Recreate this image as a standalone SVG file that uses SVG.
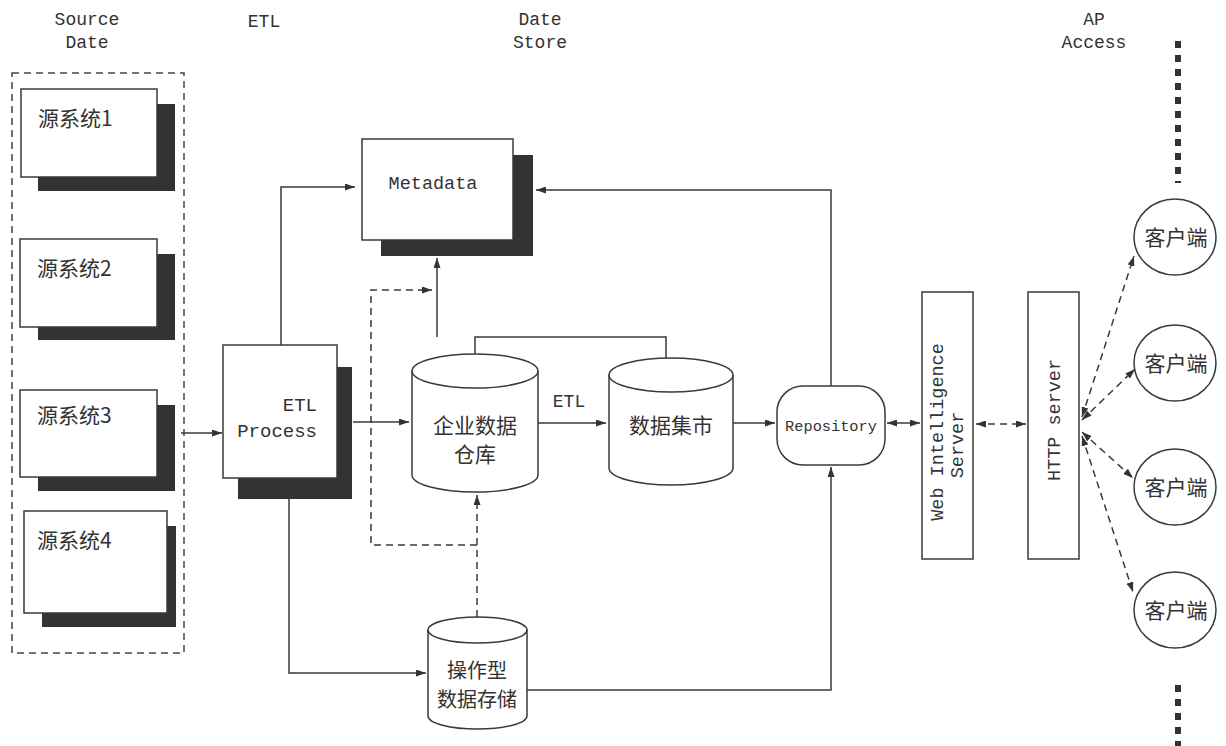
<svg xmlns="http://www.w3.org/2000/svg" width="1226" height="746" viewBox="0 0 1226 746">
<style>
.bg{fill:#fff}
.box{fill:#fff;stroke:#3a3a3a;stroke-width:1.5}
.sh{fill:#333}
.ln{fill:none;stroke:#3a3a3a;stroke-width:1.5}
.dl{fill:none;stroke:#3a3a3a;stroke-width:1.5;stroke-dasharray:7 5}
.mono{font-family:"Liberation Mono","DejaVu Sans Mono",monospace;fill:#333}
.cjk{font-family:"Noto Sans CJK SC","Noto Sans CJK JP",sans-serif;fill:#333}
</style>
<defs>
<marker id="ah" viewBox="0 0 10 7" refX="10" refY="3.5" markerWidth="10" markerHeight="7" markerUnits="userSpaceOnUse" orient="auto-start-reverse">
<path d="M0,0 L10,3.5 L0,7 Z" fill="#333"/>
</marker>
</defs>
<rect class="bg" x="0" y="0" width="1226" height="746"/>

<g id="headers">
<text class="mono" font-size="18" x="87" y="25" text-anchor="middle">Source</text>
<text class="mono" font-size="18" x="87" y="48" text-anchor="middle">Date</text>
<text class="mono" font-size="18" x="264" y="27" text-anchor="middle">ETL</text>
<text class="mono" font-size="18" x="540" y="25" text-anchor="middle">Date</text>
<text class="mono" font-size="18" x="540" y="48" text-anchor="middle">Store</text>
<text class="mono" font-size="18" x="1094" y="25" text-anchor="middle">AP</text>
<text class="mono" font-size="18" x="1094" y="48" text-anchor="middle">Access</text>
</g>

<g id="dots">
<line x1="1178" y1="41" x2="1178" y2="183" stroke="#333" stroke-width="6" stroke-dasharray="7 7"/>
<line x1="1178" y1="685" x2="1178" y2="746" stroke="#333" stroke-width="6" stroke-dasharray="7 7"/>
</g>

<g id="source-group">
<rect x="12" y="73" width="172" height="580" fill="none" stroke="#444" stroke-width="1.5" stroke-dasharray="7 5"/>
</g>
<g id="src1">
<rect class="sh" x="38" y="104" width="137" height="87"/>
<rect class="box" x="21" y="89" width="136" height="88"/>
<text class="cjk" font-size="21" x="38" y="126">源系统1</text>
</g>
<g id="src2">
<rect class="sh" x="38" y="254" width="137" height="86"/>
<rect class="box" x="20" y="239" width="137" height="88"/>
<text class="cjk" font-size="21" x="37" y="276">源系统2</text>
</g>
<g id="src3">
<rect class="sh" x="38" y="405" width="137" height="86"/>
<rect class="box" x="20" y="390" width="137" height="87"/>
<text class="cjk" font-size="21" x="37" y="423">源系统3</text>
</g>
<g id="src4">
<rect class="sh" x="42" y="526" width="134" height="101"/>
<rect class="box" x="24" y="511" width="143" height="102"/>
<text class="cjk" font-size="21" x="37" y="548">源系统4</text>
</g>

<g id="etl">
<rect class="sh" x="238" y="367" width="114" height="132"/>
<rect class="box" x="223" y="345" width="114" height="133"/>
<text class="mono" font-size="19" x="317" y="411" text-anchor="end">ETL</text>
<text class="mono" font-size="19" x="317" y="437" text-anchor="end">Process</text>
</g>

<g id="metadata">
<rect class="sh" x="381" y="155" width="152" height="101"/>
<rect class="box" x="362" y="139" width="151" height="101"/>
<text class="mono" font-size="18.5" x="433" y="189" text-anchor="middle">Metadata</text>
</g>

<g id="edw">
<path class="box" d="M412,371 A63,17 0 0,1 538,371 L538,475 A63,17 0 0,1 412,475 Z"/>
<path class="ln" d="M412,371 A63,17 0 0,0 538,371"/>
<text class="cjk" font-size="21" x="475" y="433" text-anchor="middle">企业数据</text>
<text class="cjk" font-size="21" x="475" y="462" text-anchor="middle">仓库</text>
</g>

<g id="datamart">
<path class="box" d="M609,375 A62,17 0 0,1 733,375 L733,468 A62,17 0 0,1 609,468 Z"/>
<path class="ln" d="M609,375 A62,17 0 0,0 733,375"/>
<text class="cjk" font-size="21" x="671" y="433" text-anchor="middle">数据集市</text>
</g>

<g id="ods">
<path class="box" d="M428,630 A49.5,13 0 0,1 527,630 L527,716 A49.5,13 0 0,1 428,716 Z"/>
<path class="ln" d="M428,630 A49.5,13 0 0,0 527,630"/>
<text class="cjk" font-size="20" x="477" y="678" text-anchor="middle">操作型</text>
<text class="cjk" font-size="20" x="477" y="707" text-anchor="middle">数据存储</text>
</g>

<g id="repository">
<rect class="box" x="777" y="386" width="108" height="79" rx="26" ry="26"/>
<text class="mono" font-size="15.3" x="831" y="431" text-anchor="middle">Repository</text>
</g>

<g id="wis">
<rect class="box" x="922" y="292" width="51" height="267"/>
<text class="mono" font-size="18.5" transform="translate(943,432) rotate(-90)" text-anchor="middle">Web Intelligence</text>
<text class="mono" font-size="18.5" transform="translate(963,445) rotate(-90)" text-anchor="middle">Server</text>
</g>

<g id="http">
<rect class="box" x="1028" y="292" width="51" height="267"/>
<text class="mono" font-size="18.5" transform="translate(1060,420) rotate(-90)" text-anchor="middle">HTTP server</text>
</g>

<g id="client1">
<ellipse class="box" cx="1175" cy="237" rx="41" ry="38" stroke-width="2.2"/>
<text class="cjk" font-size="21" x="1176" y="245" text-anchor="middle">客户端</text>
</g>
<g id="client2">
<ellipse class="box" cx="1175" cy="363" rx="41" ry="38" stroke-width="2.2"/>
<text class="cjk" font-size="21" x="1176" y="371" text-anchor="middle">客户端</text>
</g>
<g id="client3">
<ellipse class="box" cx="1175" cy="487" rx="41" ry="38" stroke-width="2.2"/>
<text class="cjk" font-size="21" x="1176" y="495" text-anchor="middle">客户端</text>
</g>
<g id="client4">
<ellipse class="box" cx="1175" cy="610" rx="41" ry="38" stroke-width="2.2"/>
<text class="cjk" font-size="21" x="1176" y="618" text-anchor="middle">客户端</text>
</g>

<g id="connectors">
<path class="ln" d="M181,433 L222,433" marker-end="url(#ah)"/>
<path class="ln" d="M281,345 L281,187 L355,187" marker-end="url(#ah)"/>
<path class="ln" d="M831,386 L831,190 L536,190" marker-end="url(#ah)"/>
<path class="ln" d="M475,354 L475,337 L666,337 L666,358"/>
<path class="ln" d="M437,337 L437,258" marker-end="url(#ah)"/>
<path class="ln" d="M353,422 L409,422" marker-end="url(#ah)"/>
<path class="ln" d="M538,423 L606,423" marker-end="url(#ah)"/>
<text class="mono" font-size="18" x="569" y="407" text-anchor="middle">ETL</text>
<path class="ln" d="M733,423 L775,423" marker-end="url(#ah)"/>
<path class="dl" d="M477,617 L477,495" marker-end="url(#ah)"/>
<path class="dl" d="M477,545 L371,545 L371,290 L432,290" marker-end="url(#ah)"/>
<path class="ln" d="M289,499 L289,673 L426,673" marker-end="url(#ah)"/>
<path class="ln" d="M527,690 L831,690 L831,467" marker-end="url(#ah)"/>
<path class="ln" d="M887,423 L920,423" marker-start="url(#ah)" marker-end="url(#ah)"/>
<path class="dl" d="M976,424 L1026,424" marker-start="url(#ah)" marker-end="url(#ah)"/>
<path class="dl" d="M1082,417 L1134,256" marker-start="url(#ah)" marker-end="url(#ah)"/>
<path class="dl" d="M1082,420 L1135,369" marker-start="url(#ah)" marker-end="url(#ah)"/>
<path class="dl" d="M1082,432 L1133,478" marker-start="url(#ah)" marker-end="url(#ah)"/>
<path class="dl" d="M1082,436 L1133,592" marker-start="url(#ah)" marker-end="url(#ah)"/>
</g>
</svg>
